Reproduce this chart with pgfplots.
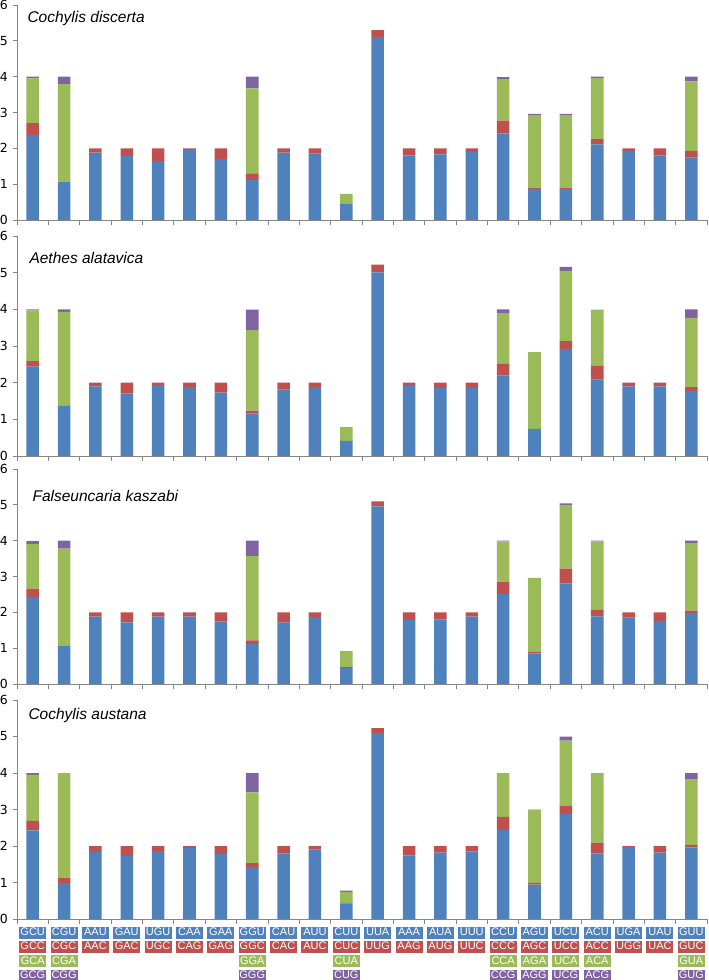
\documentclass[border=0pt]{standalone}
\usepackage{pgfplots}
\usepackage{pgfplotstable}
\pgfplotsset{compat=1.18}
\usepackage{fontspec}
\setmainfont{Liberation Sans}
\newfontfamily\tickfont{DejaVu Sans}

\definecolor{cB}{HTML}{4F81BD}
\definecolor{cR}{HTML}{C0504D}
\definecolor{cG}{HTML}{9BBB59}
\definecolor{cP}{HTML}{8064A2}
\definecolor{axgray}{HTML}{868686}

% RSCU values per codon family: first, second, third and fourth codon
\pgfplotstableread{
x b r g p
0  2.37 0.33 1.25 0.05
1  1.07 0.00 2.72 0.21
2  1.88 0.12 0.00 0.00
3  1.79 0.21 0.00 0.00
4  1.64 0.36 0.00 0.00
5  1.95 0.05 0.00 0.00
6  1.70 0.30 0.00 0.00
7  1.12 0.18 2.37 0.33
8  1.88 0.12 0.00 0.00
9  1.86 0.14 0.00 0.00
10 0.45 0.00 0.28 0.00
11 5.10 0.20 0.00 0.00
12 1.80 0.20 0.00 0.00
13 1.83 0.17 0.00 0.00
14 1.90 0.10 0.00 0.00
15 2.42 0.35 1.16 0.06
16 0.87 0.03 2.01 0.05
17 0.87 0.03 2.01 0.05
18 2.11 0.15 1.70 0.04
19 1.93 0.07 0.00 0.00
20 1.80 0.20 0.00 0.00
21 1.74 0.19 1.94 0.13
}\tabDiscerta

\pgfplotstableread{
x b r g p
0  2.44 0.15 1.38 0.03
1  1.37 0.00 2.56 0.07
2  1.90 0.10 0.00 0.00
3  1.71 0.29 0.00 0.00
4  1.94 0.06 0.00 0.00
5  1.88 0.12 0.00 0.00
6  1.73 0.27 0.00 0.00
7  1.16 0.08 2.19 0.56
8  1.81 0.19 0.00 0.00
9  1.88 0.12 0.00 0.00
10 0.41 0.00 0.38 0.00
11 5.01 0.21 0.00 0.00
12 1.94 0.06 0.00 0.00
13 1.86 0.14 0.00 0.00
14 1.86 0.14 0.00 0.00
15 2.19 0.32 1.37 0.12
16 0.74 0.00 2.09 0.00
17 2.92 0.21 1.92 0.11
18 2.08 0.38 1.53 0.00
19 1.90 0.10 0.00 0.00
20 1.90 0.10 0.00 0.00
21 1.77 0.11 1.89 0.23
}\tabAlatavica

\pgfplotstableread{
x b r g p
0  2.43 0.23 1.24 0.09
1  1.06 0.00 2.72 0.22
2  1.88 0.12 0.00 0.00
3  1.72 0.28 0.00 0.00
4  1.88 0.12 0.00 0.00
5  1.88 0.12 0.00 0.00
6  1.75 0.25 0.00 0.00
7  1.11 0.11 2.35 0.43
8  1.71 0.29 0.00 0.00
9  1.87 0.13 0.00 0.00
10 0.45 0.02 0.42 0.02
11 4.96 0.14 0.00 0.00
12 1.79 0.21 0.00 0.00
13 1.80 0.20 0.00 0.00
14 1.88 0.12 0.00 0.00
15 2.51 0.35 1.12 0.02
16 0.85 0.04 2.07 0.00
17 2.81 0.41 1.78 0.04
18 1.89 0.18 1.91 0.02
19 1.85 0.15 0.00 0.00
20 1.76 0.24 0.00 0.00
21 1.98 0.07 1.88 0.07
}\tabKaszabi

\pgfplotstableread{
x b r g p
0  2.43 0.26 1.26 0.05
1  0.98 0.14 2.88 0.00
2  1.83 0.17 0.00 0.00
3  1.73 0.27 0.00 0.00
4  1.86 0.14 0.00 0.00
5  1.94 0.06 0.00 0.00
6  1.78 0.22 0.00 0.00
7  1.42 0.11 1.94 0.53
8  1.80 0.20 0.00 0.00
9  1.90 0.10 0.00 0.00
10 0.42 0.02 0.30 0.04
11 5.09 0.14 0.00 0.00
12 1.74 0.26 0.00 0.00
13 1.82 0.18 0.00 0.00
14 1.85 0.15 0.00 0.00
15 2.44 0.36 1.20 0.00
16 0.94 0.05 1.99 0.02
17 2.88 0.21 1.80 0.11
18 1.80 0.29 1.89 0.02
19 1.97 0.03 0.00 0.00
20 1.82 0.18 0.00 0.00
21 1.96 0.07 1.80 0.17
}\tabAustana

% coloured codon boxes under the last panel
\setlength{\fboxsep}{0.5pt}
\renewcommand{\arraystretch}{1.2}
\newcommand{\cbx}[2]{\colorbox{#1}{\makebox[26pt]{\rule[-2.8pt]{0pt}{11pt}\textcolor{white}{#2}}}}
\newcommand{\cIV}[4]{\begin{tabular}{@{}c@{}}\cbx{cB}{#1}\\\cbx{cR}{#2}\\\cbx{cG}{#3}\\\cbx{cP}{#4}\end{tabular}}
\newcommand{\cII}[2]{\begin{tabular}{@{}c@{}}\cbx{cB}{#1}\\\cbx{cR}{#2}\end{tabular}}

\tikzset{ttl/.style={anchor=base west, font=\itshape\fontsize{15.5}{18}\selectfont}}

\pgfplotsset{
  panel/.style={
    scale only axis, width=690pt,
    anchor=south west,
    xmin=-0.5, xmax=21.5, ymin=0, ymax=6,
    ybar stacked, bar width=0.4,
    axis x line*=bottom, axis y line*=left,
    axis line style={draw=axgray, line width=0.8pt},
    ytick={0,...,6},
    xtick={0,...,21}, xticklabels={},
    minor xtick={-0.5,0.5,...,21.5},
    tick align=outside,
    major tick length=4pt, minor tick length=5pt,
    major x tick style={draw=none},
    tick style={draw=axgray, line width=0.8pt},
    /pgf/number format/assume math mode=true,
    yticklabel style={font=\tickfont\fontsize{12.5}{14}\selectfont, text=black, inner sep=1pt, xshift=-4pt},
    xticklabel style={font=\fontsize{11}{12}\selectfont, anchor=north, inner sep=0pt, yshift=-2pt},
  },
  sb/.style={fill=cB, draw=none},
  sr/.style={fill=cR, draw=none},
  sg/.style={fill=cG, draw=none},
  sp/.style={fill=cP, draw=none},
}

\begin{document}
\begin{tikzpicture}
\path[use as bounding box] (0pt,0pt) rectangle (709pt,980pt);

\begin{axis}[panel, at={(17pt,760pt)}, height=215pt]
  \addplot[sb] table[x=x,y=b]{\tabDiscerta};
  \addplot[sr] table[x=x,y=r]{\tabDiscerta};
  \addplot[sg] table[x=x,y=g]{\tabDiscerta};
  \addplot[sp] table[x=x,y=p]{\tabDiscerta};
  \node[ttl, xshift=7pt, yshift=-18pt] at (rel axis cs:0,1) {Cochylis discerta};
\end{axis}

\begin{axis}[panel, at={(17pt,524pt)}, height=220pt]
  \addplot[sb] table[x=x,y=b]{\tabAlatavica};
  \addplot[sr] table[x=x,y=r]{\tabAlatavica};
  \addplot[sg] table[x=x,y=g]{\tabAlatavica};
  \addplot[sp] table[x=x,y=p]{\tabAlatavica};
  \node[ttl, xshift=9pt, yshift=-28pt] at (rel axis cs:0,1) {Aethes alatavica};
\end{axis}

\begin{axis}[panel, at={(17pt,296pt)}, height=215pt]
  \addplot[sb] table[x=x,y=b]{\tabKaszabi};
  \addplot[sr] table[x=x,y=r]{\tabKaszabi};
  \addplot[sg] table[x=x,y=g]{\tabKaszabi};
  \addplot[sp] table[x=x,y=p]{\tabKaszabi};
  \node[ttl, xshift=12pt, yshift=-32pt] at (rel axis cs:0,1) {Falseuncaria kaszabi};
\end{axis}

\begin{axis}[panel, at={(17pt,61pt)}, height=219pt,
  xticklabels={
    \cIV{GCU}{GCC}{GCA}{GCG}, \cIV{CGU}{CGC}{CGA}{CGG},
    \cII{AAU}{AAC}, \cII{GAU}{GAC}, \cII{UGU}{UGC}, \cII{CAA}{CAG},
    \cII{GAA}{GAG}, \cIV{GGU}{GGC}{GGA}{GGG}, \cII{CAU}{CAC},
    \cII{AUU}{AUC}, \cIV{CUU}{CUC}{CUA}{CUG}, \cII{UUA}{UUG},
    \cII{AAA}{AAG}, \cII{AUA}{AUG}, \cII{UUU}{UUC},
    \cIV{CCU}{CCC}{CCA}{CCG}, \cIV{AGU}{AGC}{AGA}{AGG},
    \cIV{UCU}{UCC}{UCA}{UCG}, \cIV{ACU}{ACC}{ACA}{ACG},
    \cII{UGA}{UGG}, \cII{UAU}{UAC}, \cIV{GUU}{GUC}{GUA}{GUG}}]
  \addplot[sb] table[x=x,y=b]{\tabAustana};
  \addplot[sr] table[x=x,y=r]{\tabAustana};
  \addplot[sg] table[x=x,y=g]{\tabAustana};
  \addplot[sp] table[x=x,y=p]{\tabAustana};
  \node[ttl, xshift=8pt, yshift=-19pt] at (rel axis cs:0,1) {Cochylis austana};
\end{axis}
\end{tikzpicture}
\end{document}
